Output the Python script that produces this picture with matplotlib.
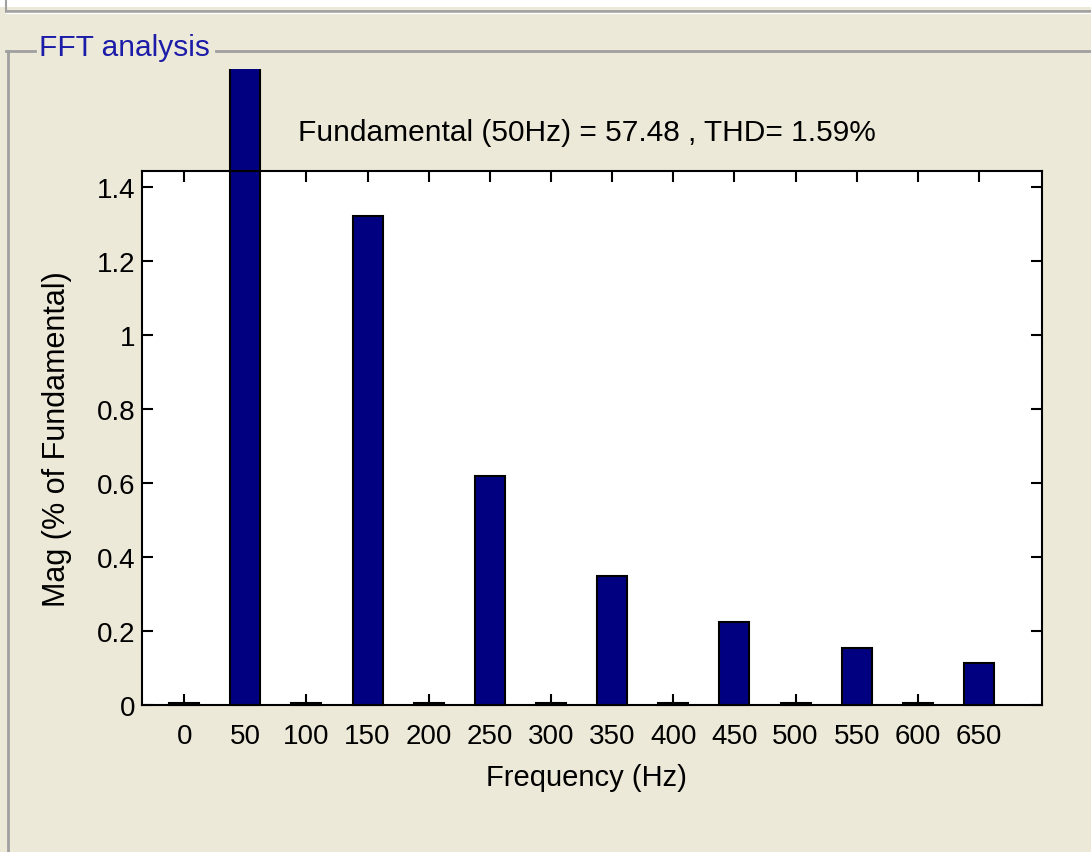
import numpy as np
import matplotlib
matplotlib.use("Agg")
import matplotlib.pyplot as plt
from matplotlib.lines import Line2D
from matplotlib.transforms import Bbox, TransformedBbox

# harmonic spectrum, % of fundamental
freqs = [0, 50, 100, 150, 200, 250, 300, 350, 400, 450, 500, 550, 600, 650]
mags = [0.005, 100.0, 0.005, 1.322, 0.005, 0.619, 0.005, 0.349,
        0.005, 0.224, 0.005, 0.154, 0.005, 0.114]
yticks = [0, 0.2, 0.4, 0.6, 0.8, 1.0, 1.2, 1.4]
yticklabels = ["0", "0.2", "0.4", "0.6", "0.8", "1", "1.2", "1.4"]
fundamental = 57.48
thd = 1.59

plt.rcParams['font.family'] = ['Liberation Sans', 'DejaVu Sans']

W, H = 1091, 853
fig = plt.figure(figsize=(W / 100, H / 100), dpi=100, facecolor="#ece9d8")

# panel decoration (pixel coords from top-left -> figure fraction)
def px(x, y):
    return x / W, 1 - y / H

fig.patches.append(plt.Rectangle((0, 1 - 8 / H), 1, 8 / H, transform=fig.transFigure,
                                 facecolor="white", edgecolor="none", zorder=0))
for (x0, y0, x1, y1, c, lw) in [
        (6, 0, 6, 12, "#a0a0a0", 1.5),
        (6, 12, W, 12, "#a0a0a0", 2.0),
        (6, 14, W, 14, "white", 1.0),
        (6, 52, 35, 52, "#a0a0a0", 2.0),
        (216, 52, W, 52, "#a0a0a0", 2.0),
        (8, 52, 8, H, "#a0a0a0", 2.0)]:
    (a, b), (c2, d) = px(x0, y0), px(x1, y1)
    fig.add_artist(Line2D([a, c2], [b, d], color=c, lw=lw, transform=fig.transFigure))
fig.text(*px(39, 48), "FFT analysis", color="#1c1ca8", fontsize=21.5,
         ha="left", va="center")

ax = fig.add_axes([142 / W, 147 / H, 900 / W, 534 / H])
ax.set_facecolor("white")
ax.set_axisbelow(True)
bars = ax.bar(freqs, mags, width=24.5, color="#000080", edgecolor="black", linewidth=1.5)
clip = TransformedBbox(Bbox([[0, 0], [1, 1 - 70 / H]]), fig.transFigure)
for b in bars:
    b.set_clip_box(clip)

ax.set_xlim(-34.5, 701.5)
ax.set_ylim(0, 1.443)
ax.set_xticks(freqs)
ax.set_yticks(yticks)
ax.set_yticklabels(yticklabels)
ax.tick_params(direction="in", length=8, width=1.5, top=True, right=True, labelsize=20)
ax.tick_params(axis="x", pad=13)
ax.tick_params(axis="y", pad=5)
for s in ax.spines.values():
    s.set_linewidth(1.5)

ax.set_xlabel("Frequency (Hz)", fontsize=21)
ax.xaxis.set_label_coords(0.494, (706 - 778) / 534)
ax.xaxis.label.set_va("center")
ax.set_ylabel("Mag (% of Fundamental)", fontsize=22)
ax.yaxis.set_label_coords((57 - 142) / 900, 0.5)
ax.yaxis.label.set_va("center")

fig.text(*px(587, 133), "Fundamental (50Hz) = %.2f , THD= %.2f%%" % (fundamental, thd),
         fontsize=21.5, ha="center", va="center")

fig.savefig("out.png", dpi=100, facecolor=fig.get_facecolor())
